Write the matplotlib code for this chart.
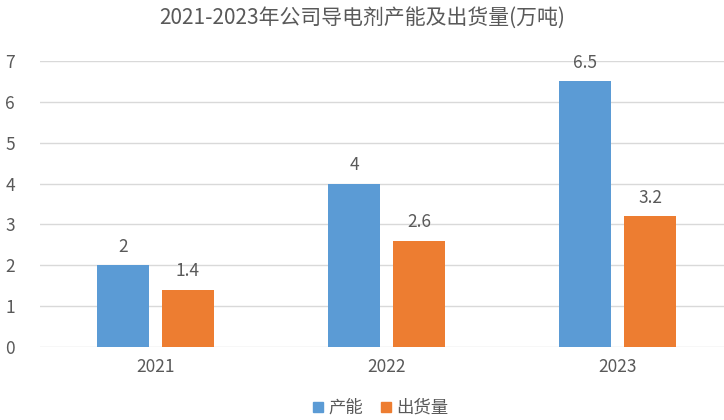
import matplotlib
matplotlib.use("Agg")
import matplotlib.pyplot as plt
from matplotlib.patches import Patch

plt.rcParams['font.family'] = ['Noto Sans CJK SC', 'DejaVu Sans']

categories = ['2021', '2022', '2023']
capacity = [2, 4, 6.5]
shipments = [1.4, 2.6, 3.2]
series_names = ['产能', '出货量']
title = '2021-2023年公司导电剂产能及出货量(万吨)'

blue = '#5B9BD5'
orange = '#ED7D31'
text_c = '#595959'

fig = plt.figure(figsize=(7.24, 4.2), dpi=100)
ax = fig.add_axes([40/724, (420-347)/420, (724-40)/724, (347-61)/420])

bw = 0.225
gap = 0.056
x = list(range(len(categories)))
off = (bw + gap) / 2
b1 = ax.bar([i - off for i in x], capacity, width=bw, color=blue, zorder=3)
b2 = ax.bar([i + off for i in x], shipments, width=bw, color=orange, zorder=3)

for bars, vals in ((b1, capacity), (b2, shipments)):
    for r, v in zip(bars, vals):
        ax.annotate(f'{v:g}', (r.get_x() + r.get_width()/2, v), xytext=(0, 7),
                    textcoords='offset points', ha='center', va='bottom',
                    fontsize=12.5, color=text_c)

ax.set_xlim(-0.5, (724-40)/231 - 0.5)
ax.set_ylim(0, 7)
ax.set_yticks(range(8))
ax.set_xticks(x)
ax.set_xticklabels(categories)
ax.grid(axis='y', color='#D9D9D9', linewidth=1, zorder=0)
for s in ax.spines.values():
    s.set_visible(False)
ax.tick_params(axis='both', length=0, labelsize=12.5, labelcolor=text_c)
ax.tick_params(axis='y', pad=18)
ax.tick_params(axis='x', pad=8)

fig.text(362/724, 1 - 18/420, title, ha='center', va='center', fontsize=15, color=text_c)

handles = [Patch(color=blue), Patch(color=orange)]
fig.legend(handles, series_names, loc='center', bbox_to_anchor=(381/724, 1 - 408/420),
           ncol=2, frameon=False, fontsize=12.5, handlelength=0.55, handleheight=0.55,
           handletextpad=0.35, columnspacing=1.0, labelcolor=text_c)

fig.savefig('out.png', dpi=100)
